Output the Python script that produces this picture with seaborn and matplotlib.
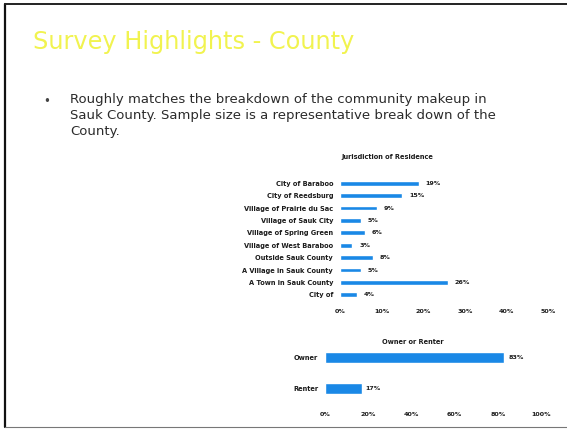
import matplotlib
matplotlib.use("Agg")
import matplotlib.pyplot as plt
import seaborn as sns
import pandas as pd
from matplotlib.lines import Line2D

# Survey results
jurisdictions = [
    "City of Baraboo",
    "City of Reedsburg",
    "Village of Prairie du Sac",
    "Village of Sauk City",
    "Village of Spring Green",
    "Village of West Baraboo",
    "Outside Sauk County",
    "A Village in Sauk County",
    "A Town in Sauk County",
    "City of",
]
jurisdiction_pct = [19, 15, 9, 5, 6, 3, 8, 5, 26, 4]
jurisdiction_ticks = [0, 10, 20, 30, 40, 50]

tenure = ["Owner", "Renter"]
tenure_pct = [83, 17]
tenure_ticks = [0, 20, 40, 60, 80, 100]

BLUE = "#1a88e6"
TEXT = "#2b2b2b"
LABEL = "#1c1c1c"

sns.set_theme(style="white")
plt.rcParams["font.family"] = ["DejaVu Sans"]

fig = plt.figure(figsize=(5.67, 4.29), dpi=100)
fig.patch.set_facecolor("white")

W, H = 567.0, 429.0


def fx(px):
    return px / W


def fy(py):
    return 1 - py / H


# Slide frame
fig.add_artist(Line2D([fx(5), fx(5)], [fy(4), fy(427)], color="#111111", lw=1.6))
fig.add_artist(Line2D([fx(5), fx(567)], [fy(4), fy(4)], color="#222222", lw=1.4))
fig.add_artist(Line2D([fx(5), fx(567)], [fy(427), fy(427)], color="#777777", lw=0.8))

# Slide title and bullet
fig.text(fx(33), fy(42), "Survey Highlights - County", color="#f1f34f",
         fontsize=17.3, va="center", ha="left")
fig.text(fx(43), fy(101), "\u2022", color="#444444", fontsize=8.5, va="center", ha="left")
bullet = ("Roughly matches the breakdown of the community makeup in\n"
          "Sauk County. Sample size is a representative break down of the\n"
          "County.")
fig.text(fx(70), fy(93), bullet, color=TEXT, fontsize=9.5, va="top", ha="left",
         linespacing=1.32)


def style_axis(ax, ticks, title, title_xy):
    ax.set_xlim(ticks[0], ticks[-1])
    ax.set_xticks(ticks)
    ax.set_xticklabels([f"{t}%" for t in ticks], fontsize=4.6, fontweight="bold",
                       color=LABEL)
    ax.tick_params(axis="x", length=0, pad=6)
    ax.tick_params(axis="y", length=0, pad=5)
    for lbl in ax.get_yticklabels():
        lbl.set_fontsize(4.8)
        lbl.set_fontweight("bold")
        lbl.set_color(LABEL)
    ax.set_xlabel("")
    ax.set_ylabel("")
    for s in ax.spines.values():
        s.set_visible(False)
    ax.set_facecolor("none")
    fig.text(fx(title_xy[0]), fy(title_xy[1]), title, fontsize=4.8, fontweight="bold",
             color=LABEL, ha="center", va="center")


# Jurisdiction of residence
ax1 = fig.add_axes([fx(340), fy(301), fx(208), 124 / H])
df1 = pd.DataFrame({"Jurisdiction": jurisdictions, "Percent": jurisdiction_pct})
sns.barplot(data=df1, x="Percent", y="Jurisdiction", orient="h", color=BLUE,
            saturation=1, width=0.4, ax=ax1)
ax1.set_ylim(len(jurisdictions) - 0.5, -0.5)
for i, v in enumerate(jurisdiction_pct):
    ax1.text(v + 1.6, i, f"{v}%", fontsize=4.6, fontweight="bold", color=LABEL,
             va="center", ha="left")
style_axis(ax1, jurisdiction_ticks, "Jurisdiction of Residence", (387, 157))

# Owner or renter
ax2 = fig.add_axes([fx(325), fy(404), fx(216), 62 / H])
df2 = pd.DataFrame({"Tenure": tenure, "Percent": tenure_pct})
sns.barplot(data=df2, x="Percent", y="Tenure", orient="h", color=BLUE,
            saturation=1, width=0.36, ax=ax2)
ax2.set_ylim(len(tenure) - 0.5, -0.5)
for i, v in enumerate(tenure_pct):
    ax2.text(v + 1.8, i, f"{v}%", fontsize=4.6, fontweight="bold", color=LABEL,
             va="center", ha="left")
style_axis(ax2, tenure_ticks, "Owner or Renter", (413, 342))

fig.savefig("out.png", dpi=100, facecolor="white")
